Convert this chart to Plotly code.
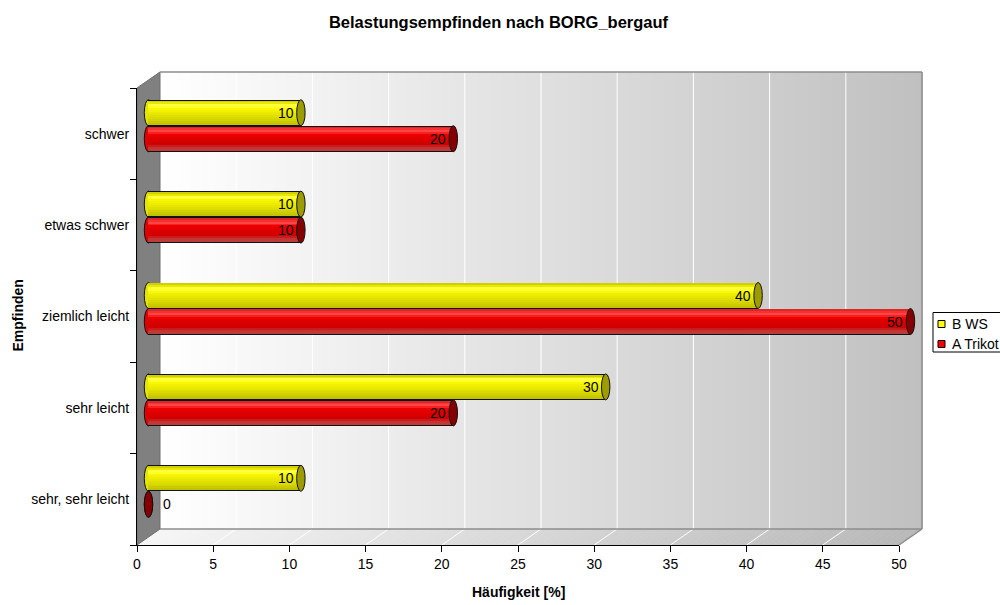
import plotly.graph_objects as go

# ---- data -------------------------------------------------------------
categories = ["sehr, sehr leicht", "sehr leicht", "ziemlich leicht", "etwas schwer", "schwer"]
series_names = ["B WS", "A Trikot"]
b_ws = [10, 30, 40, 10, 10]
a_trikot = [0, 20, 50, 10, 20]
x_ticks = list(range(0, 55, 5))

# ---- geometry (pixels) -------------------------------------------------
FIG_W, FIG_H = 1000, 605
M_L, M_R, M_T, M_B = 137, 78, 72, 60
PW = FIG_W - M_L - M_R          # plot box width incl. depth
PH = FIG_H - M_T - M_B          # plot box height incl. depth
DX, DY = 23, 16                 # 3-D depth offset of the back wall
FW, FH = PW - DX, PH - DY       # front face size
X_MAX = 50
UNIT = FW / X_MAX               # px per percent
CAT = FH / len(categories)      # px per category

FONT = "Liberation Sans, Arial, sans-serif"


def px(x):
    return (x - M_L) / PW


def py(y):
    return (FIG_H - M_B - y) / PH


# bars sit half way into the depth
bx0 = DX / 2
by0 = DY / 2
PAD = 0.6                       # extra room on the bar axis for the round ends
BAR_T = 26 / CAT                # bar thickness in category units
EDGE = 1 / CAT                  # outline thickness
CAP_W = 4.2 / UNIT              # half width of the end ellipse

yellow_stripes = ["#d0d000", "#e8e800", "#ffff40", "#ffff28", "#f8f800", "#f2f200",
                  "#ecec00", "#e6e600", "#e0e000", "#dada00", "#d2d200", "#caca00", "#c2c200"]
red_stripes = ["#d82828", "#f83030", "#ff4545", "#f82020", "#ec0000", "#e40000",
               "#de0000", "#da0000", "#d40000", "#d00000", "#c81c1c", "#c43434", "#bc3c3c"]

series = [
    dict(name=series_names[0], values=b_ws, side=+1, stripes=yellow_stripes,
         legend="#ffff00", cap="#9c9c00", end="#e4e400"),
    dict(name=series_names[1], values=a_trikot, side=-1, stripes=red_stripes,
         legend="#ff0000", cap="#850000", end="#e00000"),
]

fig = go.Figure()

# invisible trace that carries the front category axis
fig.add_trace(go.Scatter(
    x=[0] * len(categories), y=categories, mode="markers",
    marker=dict(opacity=0), hoverinfo="skip", showlegend=False,
    xaxis="x", yaxis="y"))


def span(side):
    # (offset, width) of a bar on the category axis
    return (0.0, BAR_T) if side > 0 else (-BAR_T, BAR_T)


# cylinder outline (black), then the shaded body in stripes
for s in series:
    off, w = span(s["side"])
    fig.add_trace(go.Bar(
        x=s["values"], y=categories, orientation="h", offset=off, width=w,
        marker=dict(color="#111111", line=dict(width=0)), name=s["name"],
        xaxis="x2", yaxis="y2", hoverinfo="skip", showlegend=False))
for s in series:
    off, w = span(s["side"])
    n = len(s["stripes"])
    inner = w - 2 * EDGE
    h = inner / n
    for k, col in enumerate(s["stripes"]):
        top = off + w - EDGE - k * h
        fig.add_trace(go.Bar(
            x=s["values"], y=categories, orientation="h",
            offset=top - h - 0.0015, width=h + 0.003,
            marker=dict(color=col, line=dict(width=0)),
            xaxis="x2", yaxis="y2", hoverinfo="skip", showlegend=False))

shapes = []

# back wall with a horizontal white -> grey gradient
N = 127
wall_l, wall_r = M_L + DX, M_L + PW
wall_t, wall_b = M_T, M_T + FH
step = (wall_r - wall_l) / N
for i in range(N):
    t = (i + 0.5) / N
    g = int(round(255 - 63 * t))
    shapes.append(dict(type="rect", xref="paper", yref="paper", layer="below",
                       x0=px(wall_l + i * step), x1=px(wall_l + (i + 1) * step + 0.6),
                       y0=py(wall_b), y1=py(wall_t),
                       fillcolor=f"rgb({g},{g},{g})", line=dict(width=0)))

# floor
front_y = M_T + PH
fstep = FW / N
for i in range(N):
    t = (i + 0.5) / N
    g = int(round(246 - 62 * t))
    a = M_L + i * fstep
    b = M_L + (i + 1) * fstep + 0.6
    path = (f"M {px(a)} {py(front_y)} L {px(b)} {py(front_y)} "
            f"L {px(b + DX)} {py(front_y - DY)} L {px(a + DX)} {py(front_y - DY)} Z")
    shapes.append(dict(type="path", xref="paper", yref="paper", layer="below", path=path,
                       fillcolor=f"rgb({g},{g},{g})", line=dict(width=0)))

# grid lines on wall and floor
for v in x_ticks[1:-1]:
    xf = M_L + v * UNIT
    shapes.append(dict(type="line", xref="paper", yref="paper", layer="below",
                       x0=px(xf + DX), x1=px(xf + DX), y0=py(wall_b), y1=py(wall_t),
                       line=dict(color="white", width=1)))
    shapes.append(dict(type="line", xref="paper", yref="paper", layer="below",
                       x0=px(xf), x1=px(xf + DX), y0=py(front_y), y1=py(front_y - DY),
                       line=dict(color="white", width=1)))

# left side wall
lw = (f"M {px(M_L)} {py(M_T + DY)} L {px(M_L + DX)} {py(M_T)} "
      f"L {px(M_L + DX)} {py(wall_b)} L {px(M_L)} {py(front_y)} Z")
shapes.append(dict(type="path", xref="paper", yref="paper", layer="below", path=lw,
                   fillcolor="#808080", line=dict(color="#6e6e6e", width=1)))

# box edges
edge = dict(color="#8c8c8c", width=1.5)
shapes.append(dict(type="line", xref="paper", yref="paper", layer="below",
                   x0=px(wall_l), x1=px(wall_r), y0=py(wall_t), y1=py(wall_t), line=edge))
shapes.append(dict(type="line", xref="paper", yref="paper", layer="below",
                   x0=px(wall_r), x1=px(wall_r), y0=py(wall_t), y1=py(wall_b), line=edge))
shapes.append(dict(type="line", xref="paper", yref="paper", layer="below",
                   x0=px(wall_l), x1=px(wall_r), y0=py(wall_b), y1=py(wall_b), line=edge))
shapes.append(dict(type="line", xref="paper", yref="paper", layer="below",
                   x0=px(M_L + FW), x1=px(wall_r), y0=py(front_y), y1=py(wall_b), line=edge))

# rounded left ends (under the bars) and end caps (over the bars)
for s in series:
    off, w = span(s["side"])
    for i, v in enumerate(s["values"]):
        shapes.append(dict(type="circle", xref="x2", yref="y2", layer="below",
                           x0=-CAP_W, x1=CAP_W, y0=i + off, y1=i + off + w,
                           fillcolor=s["end"], line=dict(color="#111111", width=1)))
        shapes.append(dict(type="circle", xref="x2", yref="y2", layer="above",
                           x0=v - CAP_W, x1=v + CAP_W, y0=i + off, y1=i + off + w,
                           fillcolor=s["cap"], line=dict(color="#111111", width=1)))

# value labels
annotations = []
for s in series:
    off, w = span(s["side"])
    for i, v in enumerate(s["values"]):
        annotations.append(dict(
            x=v, y=i + off + w / 2, xref="x2", yref="y2", text=str(v), showarrow=False,
            xanchor="right" if v > 0 else "left", xshift=-5 if v > 0 else 13,
            yanchor="middle", font=dict(family=FONT, size=14, color="black")))

annotations.append(dict(text="<b>Häufigkeit [%]</b>", xref="paper", yref="paper",
                        x=px(M_L + FW / 2), y=py(592), xanchor="center", yanchor="middle",
                        showarrow=False, font=dict(family=FONT, size=14, color="black")))
annotations.append(dict(text="<b>Empfinden</b>", xref="paper", yref="paper",
                        x=px(17.5), y=py(316), xanchor="center", yanchor="middle",
                        textangle=-90, showarrow=False,
                        font=dict(family=FONT, size=14, color="black")))

# legend box at the right edge of the chart
LEG_L, LEG_T, LEG_B = 933, 312.5, 352
shapes.append(dict(type="rect", xref="paper", yref="paper", layer="above",
                   x0=px(LEG_L), x1=px(FIG_W + 10), y0=py(LEG_B), y1=py(LEG_T),
                   fillcolor="white", line=dict(color="black", width=1)))
for k, s in enumerate(series):
    cy = 324 + 20 * k
    shapes.append(dict(type="rect", xref="paper", yref="paper", layer="above",
                       x0=px(938), x1=px(945), y0=py(cy + 3.5), y1=py(cy - 3.5),
                       fillcolor=s["legend"], line=dict(color="black", width=1)))
    annotations.append(dict(text=s["name"], xref="paper", yref="paper",
                            x=px(949.5), y=py(cy), xanchor="left", yanchor="middle",
                            showarrow=False, font=dict(family=FONT, size=14, color="black")))

fig.update_layout(
    width=FIG_W, height=FIG_H,
    margin=dict(l=M_L, r=M_R, t=M_T, b=M_B, autoexpand=False),
    paper_bgcolor="white", plot_bgcolor="rgba(0,0,0,0)",
    barmode="overlay", bargap=0, showlegend=False,
    font=dict(family=FONT, size=14, color="black"),
    title=dict(text="<b>Belastungsempfinden nach BORG_bergauf</b>",
               x=498.5 / FIG_W, xref="container", xanchor="center",
               y=1 - 22 / FIG_H, yref="container", yanchor="middle",
               font=dict(family=FONT, size=16.5, color="black")),
    xaxis=dict(domain=[0, FW / PW], range=[0, X_MAX], tickvals=x_ticks,
               ticks="outside", ticklen=6, tickcolor="black", showline=True,
               linecolor="black", linewidth=1, showgrid=False, zeroline=False,
               tickfont=dict(family=FONT, size=14), anchor="y", fixedrange=True),
    yaxis=dict(domain=[0, FH / PH], type="category", categoryarray=categories,
               range=[-0.5, len(categories) - 0.5], tickson="boundaries",
               ticks="outside", ticklen=6, tickcolor="black", showline=True,
               linecolor="black", linewidth=1, showgrid=False, zeroline=False,
               ticklabelstandoff=4,
               tickfont=dict(family=FONT, size=14), anchor="x", fixedrange=True),
    xaxis2=dict(domain=[(bx0 - PAD * UNIT) / PW, (bx0 + FW + PAD * UNIT) / PW],
                range=[-PAD, X_MAX + PAD], visible=False,
                anchor="y2", fixedrange=True),
    yaxis2=dict(domain=[by0 / PH, (by0 + FH) / PH], type="category",
                categoryarray=categories, range=[-0.5, len(categories) - 0.5],
                visible=False, anchor="x2", fixedrange=True),
    shapes=shapes, annotations=annotations,
)

fig.write_html("out.html")
